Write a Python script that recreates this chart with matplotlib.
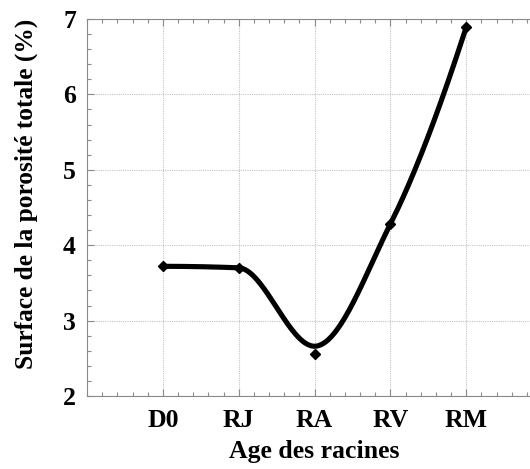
import numpy as np
import matplotlib
matplotlib.use("Agg")
import matplotlib.pyplot as plt
from matplotlib.ticker import MultipleLocator, AutoMinorLocator

# Valeurs
ages = ["D0", "RJ", "RA", "RV", "RM"]
surface = [3.72, 3.70, 2.56, 4.28, 6.89]      # points (losanges)
courbe = [3.72, 3.70, 2.66, 4.28, 6.89]       # noeuds de la courbe lissée

plt.rcParams["font.family"] = ["Liberation Serif", "DejaVu Serif"]
plt.rcParams["font.weight"] = "bold"


def pchip(x, y, n=60):
    """Interpolation cubique monotone (Fritsch-Carlson), en numpy."""
    x = np.asarray(x, dtype=float)
    y = np.asarray(y, dtype=float)
    h = np.diff(x)
    m = np.diff(y) / h
    d = np.zeros_like(y)
    for k in range(1, len(x) - 1):
        if m[k - 1] * m[k] > 0:
            w1 = 2 * h[k] + h[k - 1]
            w2 = h[k] + 2 * h[k - 1]
            d[k] = (w1 + w2) / (w1 / m[k - 1] + w2 / m[k])

    def bout(h0, h1, m0, m1):
        dd = ((2 * h0 + h1) * m0 - h0 * m1) / (h0 + h1)
        if np.sign(dd) != np.sign(m0):
            return 0.0
        if np.sign(m0) != np.sign(m1) and abs(dd) > 3 * abs(m0):
            return 3 * m0
        return dd

    d[0] = bout(h[0], h[1], m[0], m[1])
    d[-1] = bout(h[-1], h[-2], m[-1], m[-2])

    xs, ys = [], []
    for k in range(len(x) - 1):
        t = np.linspace(0, 1, n)
        h00 = 2 * t**3 - 3 * t**2 + 1
        h10 = t**3 - 2 * t**2 + t
        h01 = -2 * t**3 + 3 * t**2
        h11 = t**3 - t**2
        xs.append(x[k] + t * h[k])
        ys.append(h00 * y[k] + h10 * h[k] * d[k] + h01 * y[k + 1] + h11 * h[k] * d[k + 1])
    return np.concatenate(xs), np.concatenate(ys)


pos = np.arange(1, len(ages) + 1)
xs, ys = pchip(pos, courbe)

fig = plt.figure(figsize=(5.3, 4.69), dpi=100)
ax = fig.add_axes([87 / 530, 73 / 469, 455 / 530, 377 / 469])

gris = "#8a8a8a"
ax.grid(True, which="major", color="#c4c4c4", linewidth=0.8, linestyle=(0, (1, 1)))
ax.set_axisbelow(True)

ax.plot(xs, ys, color="black", linewidth=3.7, solid_capstyle="round", zorder=3)
ax.plot(pos, surface, linestyle="none", marker="D", markersize=5.5,
        color="black", zorder=4)

ax.set_xlim(0, 6)
ax.set_ylim(2, 7)
ax.set_xticks(pos)
ax.set_xticklabels(ages)
ax.xaxis.set_minor_locator(AutoMinorLocator(5))
ax.yaxis.set_major_locator(MultipleLocator(1))
ax.yaxis.set_minor_locator(AutoMinorLocator(5))

ax.tick_params(which="both", direction="in", top=True, right=True,
               colors=gris, labelcolor="black", labelsize=18.5)
ax.tick_params(which="major", length=5, width=0.8)
ax.tick_params(which="minor", length=3, width=0.8)
ax.tick_params(axis="x", which="major", pad=9)
ax.tick_params(axis="y", which="major", pad=8)

for s in ax.spines.values():
    s.set_color(gris)
    s.set_linewidth(0.8)

ax.set_xlabel("Age des racines", fontsize=18.5, fontweight="bold")
ax.set_ylabel("Surface de la porosité totale (%)", fontsize=18.3,
              fontweight="bold")
ax.xaxis.set_label_coords(0.499, -0.117)
ax.yaxis.set_label_coords(-0.108, 0.536)

fig.savefig("out.png", dpi=100)
